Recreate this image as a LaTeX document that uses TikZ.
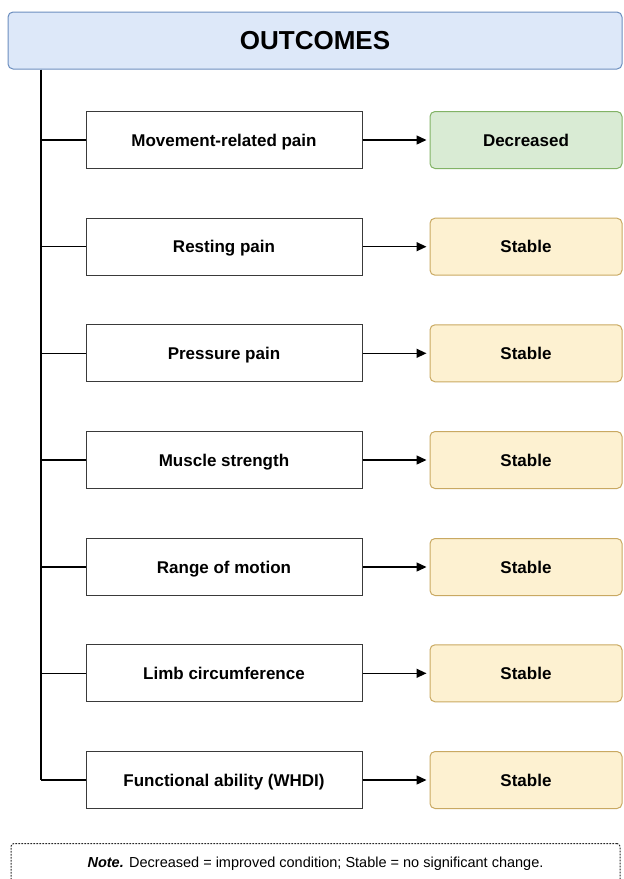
\documentclass[tikz,border=0pt]{standalone}
\usepackage{fontspec}
\setmainfont{Liberation Sans}
\usetikzlibrary{shapes,arrows.meta,positioning}
\definecolor{headfill}{HTML}{DDE8F9}
\definecolor{headline}{HTML}{6C8EBF}
\definecolor{decfill}{HTML}{D9EBD4}
\definecolor{decline}{HTML}{82B366}
\definecolor{stabfill}{HTML}{FDF1D1}
\definecolor{stabline}{HTML}{C9A962}
\definecolor{boxline}{HTML}{3A3A3A}
\tikzset{
  headbox/.style    = {draw=headline, fill=headfill, line width=1pt,
                       rounded corners=5pt, minimum width=614pt,
                       minimum height=57pt, text height=18.6pt,
                       text depth=0pt,
                       font=\fontsize{26}{30}\selectfont\bfseries},
  measurebox/.style = {draw=boxline, fill=white, line width=1pt,
                       minimum width=276pt, minimum height=57pt,
                       text height=12.2pt, text depth=0pt,
                       font=\fontsize{17}{20}\selectfont\bfseries},
  resultbox/.style  = {line width=1pt, rounded corners=5pt,
                       minimum width=192pt, minimum height=57pt,
                       text height=12.2pt, text depth=0pt,
                       font=\fontsize{17}{20}\selectfont\bfseries},
  decreased/.style  = {resultbox, draw=decline, fill=decfill},
  stable/.style     = {resultbox, draw=stabline, fill=stabfill},
  trunkline/.style  = {line width=1.4pt},
  resultarrow/.style= {line width=1.4pt, -{Triangle[length=10pt,width=9pt]},
                       shorten >=3pt},
  notebox/.style    = {draw=black!85, dash pattern=on 1.6pt off 1.4pt,
                       line width=1pt, rounded corners=3pt, anchor=north,
                       minimum width=609pt, inner ysep=0pt,
                       text height=24pt, text depth=20pt,
                       font=\fontsize{14.5}{17}\selectfont}
}
% one outcome: name, y position, measure, result style, result text
\newcommand{\outcomerow}[5]{
  \node[measurebox] (M#1) at (224,#2) {#3};
  \node[#4] (R#1) at (526,#2) {#5};
  \draw[trunkline] (trunk |- M#1) -- (M#1.west);
  \draw[resultarrow] (M#1) -- (R#1);
}

\begin{document}
\begin{tikzpicture}[x=1pt,y=-1pt]
  \useasboundingbox (0,0) rectangle (624,879);
  \node[headbox] (head) at (315,40.5) {OUTCOMES};
  \coordinate (trunk) at (41,0);

  \outcomerow{1}{140}{Movement-related pain}{decreased}{Decreased}
  \outcomerow{2}{246.7}{Resting pain}{stable}{Stable}
  \outcomerow{3}{353.3}{Pressure pain}{stable}{Stable}
  \outcomerow{4}{460}{Muscle strength}{stable}{Stable}
  \outcomerow{5}{567}{Range of motion}{stable}{Stable}
  \outcomerow{6}{673.3}{Limb circumference}{stable}{Stable}
  \outcomerow{7}{780}{Functional ability (WHDI)}{stable}{Stable}

  \draw[trunkline] (head.south -| trunk) -- (trunk |- M7);

  \node[notebox] (note) at (315.5,843)
    {\textbf{\textit{Note.}} Decreased = improved condition; Stable = no significant change.};
\end{tikzpicture}
\end{document}
